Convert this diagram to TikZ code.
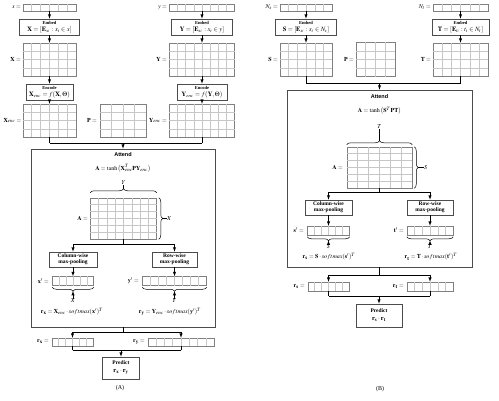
\documentclass[tikz,border=0pt]{standalone}
\usepackage{mathptmx}
\usepackage{fontspec}
\setmainfont{Liberation Serif}
\setsansfont{Liberation Sans}
\usetikzlibrary{calc,decorations.pathreplacing}
\newcommand{\cells}[3]{%
  \foreach \k in {1,...,#2}{\ifnum\k<#2\relax \draw [style=gridl] ($(#1.north west)!\k/#2!(#1.north east)$) -- ($(#1.south west)!\k/#2!(#1.south east)$);\fi}%
  \foreach \k in {1,...,#3}{\ifnum\k<#3\relax \draw [style=gridl] ($(#1.north west)!\k/#3!(#1.south west)$) -- ($(#1.north east)!\k/#3!(#1.south east)$);\fi}%
}
\newcommand{\smallhead}[1]{{\fontsize{4.5}{5}\selectfont\bfseries #1}}
\newcommand{\bighead}[1]{{\fontsize{5.5}{6}\selectfont\bfseries #1}}
\begin{document}
\begin{tikzpicture}[x=1pt,y=-1pt]
	\tikzstyle{none}=[inner sep=0pt]
	\tikzstyle{box}=[draw=black!70, line width=0.6pt, inner sep=0pt, align=center, font=\fontsize{6.5}{7}\selectfont]
	\tikzstyle{cellbox}=[draw=black!50, line width=0.5pt, inner sep=0pt]
	\tikzstyle{gridl}=[draw=black!22, line width=0.4pt]
	\tikzstyle{lbl}=[inner sep=0pt, anchor=east, font=\fontsize{6}{6.5}\selectfont]
	\tikzstyle{txt}=[inner sep=0pt, font=\fontsize{6}{6.5}\selectfont]
	\tikzstyle{arrow1}=[-latex,draw,line width=0.5pt]
	\tikzstyle{simple}=[-,draw,line width=0.5pt]
	\tikzstyle{brace1}=[decorate,decoration={brace,amplitude=4pt},draw,line width=0.5pt]
	\useasboundingbox (0,0) rectangle (499,400);

		\node [style=cellbox, minimum width=53, minimum height=7] (0) at (49.5, 7.5) {};
		\node [style=lbl] (1) at (21, 7.5) {$x =$};
		\node [style=box, minimum width=60, minimum height=16] (2) at (49.5, 27) {\smallhead{Embed}\\$\mathbf{X} = \left[\mathbf{E}_{x_i} : x_i \in x\right]$};
		\node [style=cellbox, minimum width=53, minimum height=33] (3) at (49.5, 59.5) {};
		\node [style=lbl] (4) at (21, 59.5) {$\mathbf{X} =$};
		\node [style=box, minimum width=47, minimum height=16] (5) at (49.5, 92) {\smallhead{Encode}\\$\mathbf{X}_{enc} = f(\mathbf{X}, \Theta)$};
		\node [style=cellbox, minimum width=53, minimum height=33] (6) at (49.5, 120.5) {};
		\node [style=lbl] (7) at (21.5, 120.5) {$\mathbf{X}_{enc} =$};
		\node [style=cellbox, minimum width=46, minimum height=33] (8) at (123, 120.5) {};
		\node [style=lbl] (9) at (97, 120.5) {$\mathbf{P} =$};
		\node [style=cellbox, minimum width=65, minimum height=7] (10) at (202, 7.5) {};
		\node [style=lbl] (11) at (167, 7.5) {$y =$};
		\node [style=box, minimum width=61, minimum height=16] (12) at (202, 27) {\smallhead{Embed}\\$\mathbf{Y} = \left[\mathbf{E}_{x_i} : x_i \in y\right]$};
		\node [style=cellbox, minimum width=65, minimum height=33] (13) at (202, 59.5) {};
		\node [style=lbl] (14) at (167, 59.5) {$\mathbf{Y} =$};
		\node [style=box, minimum width=50, minimum height=16] (15) at (202, 92) {\smallhead{Encode}\\$\mathbf{Y}_{enc} = f(\mathbf{Y}, \Theta)$};
		\node [style=cellbox, minimum width=65, minimum height=33] (16) at (202, 120.5) {};
		\node [style=lbl] (17) at (167, 120.5) {$\mathbf{Y}_{enc} =$};
		\node [style=none] (18) at (49.5, 143) {};
		\node [style=none] (19) at (123, 143) {};
		\node [style=none] (20) at (202, 143) {};
		\node [style=box, minimum width=184, minimum height=178] (21) at (123, 238) {};
		\node [style=txt] (22) at (123, 155) {\bighead{\sffamily Attend}};
		\node [style=txt] (23) at (123, 168.5) {$\mathbf{A} = \tanh\left(\mathbf{X}_{enc}^T\mathbf{P}\mathbf{Y}_{enc}\right)$};
		\node [style=cellbox, minimum width=66, minimum height=41] (24) at (123.5, 218.5) {};
		\node [style=lbl] (25) at (88, 218.5) {$\mathbf{A} =$};
		\node [style=none] (26) at (123.5, 244) {};
		\node [style=none] (27) at (73, 244) {};
		\node [style=none] (28) at (174.5, 244) {};
		\node [style=box, minimum width=48, minimum height=15] (29) at (73, 259.5) {\bighead{Column-wise}\\[-1pt]\bighead{max-pooling}};
		\node [style=box, minimum width=45, minimum height=15] (30) at (174.5, 259.5) {\bighead{Row-wise}\\[-1pt]\bighead{max-pooling}};
		\node [style=cellbox, minimum width=41, minimum height=9] (31) at (73, 281) {};
		\node [style=lbl] (32) at (49, 281) {$\mathbf{x}' =$};
		\node [style=cellbox, minimum width=64, minimum height=9] (33) at (174.5, 281) {};
		\node [style=lbl] (34) at (139, 281) {$\mathbf{y}' =$};
		\node [style=txt] (35) at (73, 301) {$X$};
		\node [style=txt] (36) at (174.5, 301) {$Y$};
		\node [style=txt] (37) at (72, 312) {$\mathbf{r}_\mathbf{x} = \mathbf{X}_{enc}\cdot softmax(\mathbf{x}')^T$};
		\node [style=txt] (38) at (170, 312) {$\mathbf{r}_\mathbf{y} = \mathbf{Y}_{enc}\cdot softmax(\mathbf{y}')^T$};
		\node [style=none] (39) at (123, 332) {};
		\node [style=none] (40) at (72.5, 332) {};
		\node [style=none] (41) at (181, 332) {};
		\node [style=cellbox, minimum width=41, minimum height=8] (42) at (72.5, 342) {};
		\node [style=lbl] (43) at (49, 342) {$\mathbf{r}_\mathbf{x} =$};
		\node [style=cellbox, minimum width=66, minimum height=8] (44) at (181, 342) {};
		\node [style=lbl] (45) at (145, 342) {$\mathbf{r}_\mathbf{y} =$};
		\node [style=none] (46) at (72.5, 350) {};
		\node [style=none] (47) at (121, 350) {};
		\node [style=none] (48) at (181, 350) {};
		\node [style=box, minimum width=37, minimum height=22] (49) at (121, 368) {\bighead{Predict}\\[1pt]$\mathbf{r}_\mathbf{x}\cdot\mathbf{r}_\mathbf{y}$};
		\node [style=txt] (50) at (120, 388) {(A)};
		\node [style=txt] (51) at (123.5, 183) {$Y$};
		\node [style=txt, anchor=west] (52) at (167, 218.5) {$X$};
		\node [style=none] (53) at (123.5, 189) {};
		\node [style=none] (54) at (162.5, 218.5) {};
		\node [style=none] (55) at (73, 291) {};
		\node [style=none] (56) at (174.5, 291) {};

		\node [style=cellbox, minimum width=52, minimum height=7] (60) at (306, 7.5) {};
		\node [style=lbl] (61) at (278, 7.5) {$N_s =$};
		\node [style=box, minimum width=61, minimum height=16] (62) at (306, 27) {\smallhead{Embed}\\$\mathbf{S} = \left[\mathbf{E}_{s_i} : s_i \in N_s\right]$};
		\node [style=cellbox, minimum width=52, minimum height=33] (63) at (306, 59.5) {};
		\node [style=lbl] (64) at (278, 59.5) {$\mathbf{S} =$};
		\node [style=cellbox, minimum width=39, minimum height=34] (65) at (375.5, 59.5) {};
		\node [style=lbl] (66) at (354, 59.5) {$\mathbf{P} =$};
		\node [style=cellbox, minimum width=55, minimum height=7] (67) at (460.5, 7.5) {};
		\node [style=lbl] (68) at (431, 7.5) {$N_t =$};
		\node [style=box, minimum width=57, minimum height=16] (69) at (460.5, 27) {\smallhead{Embed}\\$\mathbf{T} = \left[\mathbf{E}_{t_i} : t_i \in N_t\right]$};
		\node [style=cellbox, minimum width=55, minimum height=33] (70) at (460.5, 59.5) {};
		\node [style=lbl] (71) at (431, 59.5) {$\mathbf{T} =$};
		\node [style=none] (72) at (306, 83) {};
		\node [style=none] (73) at (379.5, 83) {};
		\node [style=none] (74) at (460.5, 83) {};
		\node [style=box, minimum width=185, minimum height=177] (75) at (379.5, 178.5) {};
		\node [style=txt] (76) at (379.5, 97) {\bighead{\sffamily Attend}};
		\node [style=txt] (77) at (379.5, 111) {$\mathbf{A} = \tanh\left(\mathbf{S}^T\mathbf{P}\mathbf{T}\right)$};
		\node [style=cellbox, minimum width=65, minimum height=41] (78) at (379.5, 167.5) {};
		\node [style=lbl] (79) at (343, 167.5) {$\mathbf{A} =$};
		\node [style=txt] (80) at (379.5, 127) {$T$};
		\node [style=none] (81) at (379.5, 141) {};
		\node [style=txt, anchor=west] (82) at (424, 167.5) {$S$};
		\node [style=none] (83) at (418, 167.5) {};
		\node [style=none] (84) at (379.5, 192) {};
		\node [style=none] (85) at (328.5, 192) {};
		\node [style=none] (86) at (430, 192) {};
		\node [style=box, minimum width=47, minimum height=15] (87) at (328.5, 207.5) {\bighead{Column-wise}\\[-1pt]\bighead{max-pooling}};
		\node [style=box, minimum width=46, minimum height=15] (88) at (430, 207.5) {\bighead{Row-wise}\\[-1pt]\bighead{max-pooling}};
		\node [style=cellbox, minimum width=42, minimum height=9] (89) at (328.5, 230.5) {};
		\node [style=lbl] (90) at (304, 230.5) {$\mathbf{s}' =$};
		\node [style=cellbox, minimum width=46, minimum height=9] (91) at (430, 230.5) {};
		\node [style=lbl] (92) at (404, 230.5) {$\mathbf{t}' =$};
		\node [style=txt] (93) at (328.5, 247) {$S$};
		\node [style=none] (94) at (328.5, 240.5) {};
		\node [style=txt] (95) at (430, 247) {$T$};
		\node [style=none] (96) at (430, 240.5) {};
		\node [style=txt] (97) at (329, 257) {$\mathbf{r}_\mathbf{s} = \mathbf{S}\cdot softmax(\mathbf{s}')^T$};
		\node [style=txt] (98) at (431, 257) {$\mathbf{r}_\mathbf{t} = \mathbf{T}\cdot softmax(\mathbf{t}')^T$};
		\node [style=none] (99) at (379.5, 275) {};
		\node [style=none] (100) at (328.5, 275) {};
		\node [style=none] (101) at (430, 275) {};
		\node [style=cellbox, minimum width=41, minimum height=9] (102) at (328.5, 286.5) {};
		\node [style=lbl] (103) at (305, 286.5) {$\mathbf{r}_\mathbf{s} =$};
		\node [style=cellbox, minimum width=46, minimum height=9] (104) at (430, 286.5) {};
		\node [style=lbl] (105) at (404, 286.5) {$\mathbf{r}_\mathbf{t} =$};
		\node [style=none] (106) at (328.5, 296) {};
		\node [style=none] (107) at (379, 296) {};
		\node [style=none] (108) at (430, 296) {};
		\node [style=box, minimum width=46, minimum height=23] (109) at (379, 315.5) {\bighead{Predict}\\[1pt]$\mathbf{r}_\mathbf{s}\cdot\mathbf{r}_\mathbf{t}$};
		\node [style=txt] (110) at (380, 389) {(B)};

		\cells{0}{6}{1} \cells{3}{6}{4} \cells{6}{6}{4} \cells{8}{4}{4}
		\cells{10}{8}{1} \cells{13}{8}{4} \cells{16}{8}{4}
		\cells{24}{8}{6} \cells{31}{6}{1} \cells{33}{8}{1} \cells{42}{6}{1} \cells{44}{8}{1}
		\cells{60}{6}{1} \cells{63}{6}{4} \cells{65}{4}{4} \cells{67}{6}{1} \cells{70}{6}{4}
		\cells{78}{6}{6} \cells{89}{6}{1} \cells{91}{6}{1} \cells{102}{6}{1} \cells{104}{6}{1}

		\draw [style=arrow1] (0) to (2);
		\draw [style=arrow1] (2) to (3);
		\draw [style=arrow1] (3) to (5);
		\draw [style=arrow1] (5) to (6);
		\draw [style=arrow1] (10) to (12);
		\draw [style=arrow1] (12) to (13);
		\draw [style=arrow1] (13) to (15);
		\draw [style=arrow1] (15) to (16);
		\draw [style=simple] (6) to (18.center);
		\draw [style=simple] (16) to (20.center);
		\draw [style=simple] (18.center) to (20.center);
		\draw [style=arrow1] (19.center) to (21);
		\draw [style=simple] (24) to (26.center);
		\draw [style=simple] (27.center) to (28.center);
		\draw [style=arrow1] (27.center) to (29);
		\draw [style=arrow1] (28.center) to (30);
		\draw [style=arrow1] (29) to (31);
		\draw [style=arrow1] (30) to (33);
		\draw [style=simple] (21) to (39.center);
		\draw [style=simple] (40.center) to (41.center);
		\draw [style=arrow1] (40.center) to (42);
		\draw [style=arrow1] (41.center) to (44);
		\draw [style=simple] (42) to (46.center);
		\draw [style=simple] (44) to (48.center);
		\draw [style=simple] (46.center) to (48.center);
		\draw [style=arrow1] (47.center) to (49);
		\draw [style=brace1] ([yshift=5pt]24.north west) -- ([yshift=5pt]24.north east);
		\draw [style=brace1] ([xshift=2pt]24.north east) -- ([xshift=2pt]24.south east);
		\draw [style=brace1] ([yshift=-1.5pt]31.south east) -- ([yshift=-1.5pt]31.south west);
		\draw [style=brace1] ([yshift=-1.5pt]33.south east) -- ([yshift=-1.5pt]33.south west);
		\draw [style=simple] (51) to (53.center);
		\draw [style=simple] (54.center) to (52);
		\draw [style=arrow1] (35) to (55.center);
		\draw [style=arrow1] (36) to (56.center);

		\draw [style=arrow1] (60) to (62);
		\draw [style=arrow1] (62) to (63);
		\draw [style=arrow1] (67) to (69);
		\draw [style=arrow1] (69) to (70);
		\draw [style=simple] (63) to (72.center);
		\draw [style=simple] (70) to (74.center);
		\draw [style=simple] (72.center) to (74.center);
		\draw [style=arrow1] (73.center) to (75);
		\draw [style=simple] (78) to (84.center);
		\draw [style=simple] (85.center) to (86.center);
		\draw [style=arrow1] (85.center) to (87);
		\draw [style=arrow1] (86.center) to (88);
		\draw [style=arrow1] (87) to (89);
		\draw [style=arrow1] (88) to (91);
		\draw [style=simple] (75) to (99.center);
		\draw [style=simple] (100.center) to (101.center);
		\draw [style=arrow1] (100.center) to (102);
		\draw [style=arrow1] (101.center) to (104);
		\draw [style=simple] (102) to (106.center);
		\draw [style=simple] (104) to (108.center);
		\draw [style=simple] (106.center) to (108.center);
		\draw [style=arrow1] (107.center) to (109);
		\draw [style=brace1] ([yshift=2pt]78.north west) -- ([yshift=2pt]78.north east);
		\draw [style=brace1] ([xshift=2pt]78.north east) -- ([xshift=2pt]78.south east);
		\draw [style=brace1] ([yshift=-1.5pt]89.south east) -- ([yshift=-1.5pt]89.south west);
		\draw [style=brace1] ([yshift=-1.5pt]91.south east) -- ([yshift=-1.5pt]91.south west);
		\draw [style=simple] (80) to (81.center);
		\draw [style=simple] (83.center) to (82);
		\draw [style=arrow1] (93) to (94.center);
		\draw [style=arrow1] (95) to (96.center);

\end{tikzpicture}
\end{document}
